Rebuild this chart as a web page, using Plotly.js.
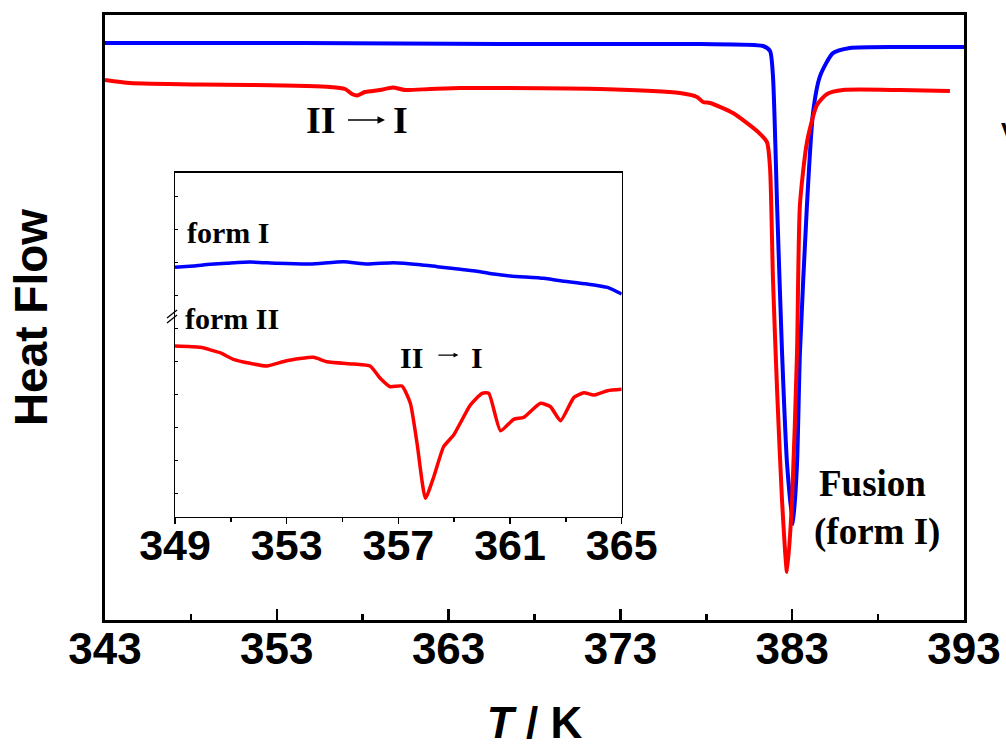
<!DOCTYPE html>
<html>
<head>
<meta charset="utf-8">
<script src="https://cdn.plot.ly/plotly-3.0.1.min.js"></script>
<style>
  html, body { margin: 0; padding: 0; background: #ffffff; }
  #chart { width: 1006px; height: 747px; }
</style>
</head>
<body>
<div id="chart"></div>
<script>
// DSC heating curves (arbitrary heat-flow units, endotherm down)

// Full scan: form I sample
const mainT_formI = [343, 354.35, 366.0, 377.63, 381.3, 381.71, 381.88, 382.12, 382.41, 382.7, 383.05,
  383.28, 383.45, 383.86, 384.21, 384.62, 385.37, 386.36, 389.27, 393];
const mainHF_formI = [9.537, 9.537, 9.52, 9.52, 9.488, 9.405, 8.99, 6.86, 4.413, 2.579, 1.587,
  2.579, 4.413, 6.86, 8.38, 8.99, 9.37, 9.455, 9.471, 9.471];

// Full scan: form II sample
const mainT_formII = [343, 344.46, 348.53, 351.44, 356.1, 356.97, 357.38, 357.67, 358.13, 359.01, 359.76,
  360.46, 361.92, 363.66, 365.99, 371.81, 376.47, 377.46, 377.81, 378.22, 379.55, 380.95, 381.53,
  381.71, 381.88, 382.12, 382.41, 382.7, 382.99, 383.28, 383.45, 383.86, 384.44, 385.03, 385.96,
  389.27, 392.18];
const mainHF_formII = [8.926, 8.876, 8.851, 8.843, 8.81, 8.777, 8.694, 8.669, 8.727, 8.76, 8.802,
  8.76, 8.777, 8.793, 8.793, 8.777, 8.711, 8.645, 8.562, 8.545, 8.38, 8.083, 7.9,
  7.47, 5.636, 3.80, 1.967, 0.793, 1.967, 4.413, 6.86, 7.90, 8.512, 8.694, 8.76,
  8.76, 8.744];

// Expanded region 349-365 K
const insetT_formI = [349.0, 349.66, 350.26, 350.85, 351.69, 352.65, 353.84, 355.04, 355.88, 356.83,
  357.79, 358.39, 359.22, 359.94, 360.42, 361.02, 362.21, 362.81, 363.77, 364.49, 365.0];
const insetHF_formI = [6.839, 6.879, 6.929, 6.96, 7.0, 6.96, 6.939, 7.01, 6.939, 6.979,
  6.919, 6.859, 6.778, 6.707, 6.636, 6.576, 6.505, 6.434, 6.333, 6.232, 6.03];

const insetT_formII = [349.0, 349.9, 350.61, 351.09, 351.69, 352.29, 353.0, 353.96, 354.44, 355.4,
  355.99, 356.35, 356.71, 357.13, 357.43, 357.67, 357.97, 358.27, 358.62, 358.98, 359.58, 360.0,
  360.24, 360.66, 361.13, 361.49, 362.09, 362.45, 362.81, 363.29, 363.65, 364.0, 364.49, 365.0];
const insetHF_formII = [4.455, 4.415, 4.252, 4.052, 3.93, 3.848, 4.009, 4.112, 3.979, 3.909,
  3.848, 3.476, 3.221, 3.242, 2.718, 1.506, -0.161, 0.494, 1.403, 1.758, 2.667, 3.021,
  3.021, 1.888, 2.233, 2.294, 2.718, 2.615, 2.191, 2.9, 3.039, 2.97, 3.1, 3.142];

// Axis ticks
const mainTicks = [343, 353, 363, 373, 383, 393];
const mainMinorTicks = [348, 358, 368, 378, 388];
const insetTicks = [349, 353, 357, 361, 365];
const insetMinorTicks = [351, 355, 359, 363];

const BLUE = '#0000ff';
const RED = '#ff0000';
const SANS = 'Liberation Sans, Arial, sans-serif';
const SERIF = 'Liberation Serif, Times New Roman, serif';

const traces = [
  { x: mainT_formI, y: mainHF_formI, xaxis: 'x', yaxis: 'y', mode: 'lines',
    line: { color: BLUE, width: 4, shape: 'spline', smoothing: 0.6 }, hoverinfo: 'skip' },
  { x: mainT_formII, y: mainHF_formII, xaxis: 'x', yaxis: 'y', mode: 'lines',
    line: { color: RED, width: 4, shape: 'spline', smoothing: 0.6 }, hoverinfo: 'skip' },
  { x: insetT_formI, y: insetHF_formI, xaxis: 'x2', yaxis: 'y2', mode: 'lines',
    line: { color: BLUE, width: 3.5, shape: 'spline', smoothing: 0.5 }, hoverinfo: 'skip' },
  { x: insetT_formII, y: insetHF_formII, xaxis: 'x2', yaxis: 'y2', mode: 'lines',
    line: { color: RED, width: 3.5, shape: 'spline', smoothing: 0.5 }, hoverinfo: 'skip' }
];

const serifBold = (size) => ({ family: SERIF, size: size, color: '#000', weight: 'bold' });

const annotations = [
  // main transition label
  { xref: 'x', yref: 'y', x: 355.6, y: 8.264, text: 'II', showarrow: false, font: serifBold(38) },
  { xref: 'x', yref: 'y', x: 359.3, y: 8.264, text: ' ', showarrow: true, ax: -40, ay: 0,
    arrowhead: 2, arrowsize: 1, arrowwidth: 1.5, arrowcolor: '#000', standoff: 0, startstandoff: 0 },
  { xref: 'x', yref: 'y', x: 360.2, y: 8.264, text: 'I', showarrow: false, font: serifBold(38) },
  // fusion label
  { xref: 'x', yref: 'y', x: 387.7, y: 2.26, text: 'Fusion', showarrow: false, font: serifBold(37) },
  { xref: 'x', yref: 'y', x: 387.95, y: 1.45, text: '(form I)', showarrow: false, font: serifBold(37) },
  // inset labels
  { xref: 'x2', yref: 'y2', x: 349.36, y: 7.88, xanchor: 'left', text: 'form I', showarrow: false, font: serifBold(30) },
  { xref: 'x2', yref: 'y2', x: 349.28, y: 5.30, xanchor: 'left', text: 'form II', showarrow: false, font: serifBold(30) },
  { xref: 'x2', yref: 'y2', x: 357.48, y: 4.12, text: 'II', showarrow: false, font: serifBold(30) },
  { xref: 'x2', yref: 'y2', x: 359.15, y: 4.18, text: ' ', showarrow: true, ax: -23, ay: 0,
    arrowhead: 2, arrowsize: 0.8, arrowwidth: 1.2, arrowcolor: '#000', standoff: 0, startstandoff: 0 },
  { xref: 'x2', yref: 'y2', x: 359.80, y: 4.12, text: 'I', showarrow: false, font: serifBold(30) },
  // partial glyph at the right edge
  { xref: 'paper', yref: 'paper', x: 1.0405, y: 0.835, xanchor: 'left', text: 'V', showarrow: false,
    font: { family: SANS, size: 26, color: '#000', weight: 'bold' } }
];

// axis-break marks on the inset's left axis (paper refs so they are not clipped)
const breakX = 0.0815, breakY = 0.5008;
const shapes = [
  { type: 'line', xref: 'paper', yref: 'paper', xsizemode: 'pixel', ysizemode: 'pixel',
    xanchor: breakX, yanchor: breakY, x0: -8, x1: 2, y0: -1, y1: 7, line: { color: '#000', width: 1.3 } },
  { type: 'line', xref: 'paper', yref: 'paper', xsizemode: 'pixel', ysizemode: 'pixel',
    xanchor: breakX, yanchor: breakY, x0: -8, x1: 2, y0: -6, y1: 2, line: { color: '#000', width: 1.3 } }
];

const layout = {
  width: 1006, height: 747,
  margin: { l: 105, r: 42, t: 15, b: 127, pad: 0 },
  paper_bgcolor: '#ffffff', plot_bgcolor: '#ffffff',
  showlegend: false,
  xaxis: {
    domain: [0, 1], anchor: 'y', range: [343, 393],
    tickmode: 'array', tickvals: mainTicks, ticktext: mainTicks.map(String),
    ticks: 'inside', ticklen: 11, tickwidth: 2.5, tickcolor: '#000',
    minor: { tickmode: 'array', tickvals: mainMinorTicks, ticks: 'inside', ticklen: 6, tickwidth: 2.5, tickcolor: '#000' },
    showline: true, linewidth: 3, linecolor: '#000', mirror: true,
    showgrid: false, zeroline: false,
    tickfont: { family: SANS, size: 44, color: '#000', weight: 'bold' },
    ticklabelstandoff: -12,
    title: { text: '<i>T</i> / K', font: { family: SANS, size: 44, color: '#000', weight: 'bold' }, standoff: 51 }
  },
  yaxis: {
    domain: [0, 1], anchor: 'x', range: [0, 10],
    showticklabels: false, ticks: '',
    showline: true, linewidth: 3, linecolor: '#000', mirror: true,
    showgrid: false, zeroline: false,
    title: { text: 'Heat Flow', font: { family: SANS, size: 46, color: '#000', weight: 'bold' }, standoff: 40 }
  },
  xaxis2: {
    domain: [0.0815, 0.6015], anchor: 'y2', range: [349, 365],
    tickmode: 'array', tickvals: insetTicks, ticktext: insetTicks.map(String),
    ticks: 'outside', ticklen: 6, tickwidth: 1.5, tickcolor: '#000',
    minor: { tickmode: 'array', tickvals: insetMinorTicks, ticks: 'outside', ticklen: 4, tickwidth: 1.5, tickcolor: '#000' },
    showline: true, linewidth: 1.5, linecolor: '#000', mirror: true,
    showgrid: false, zeroline: false,
    tickfont: { family: SANS, size: 43, color: '#000', weight: 'bold' },
    ticklabelstandoff: -16
  },
  yaxis2: {
    domain: [0.1707, 0.7393], anchor: 'x2', range: [-0.718, 9.706],
    tickmode: 'linear', tick0: 0, dtick: 1,
    showticklabels: false, ticks: 'inside', ticklen: 3, tickwidth: 1, tickcolor: '#000',
    showline: true, linewidth: 1.5, linecolor: '#000', mirror: true,
    showgrid: false, zeroline: false
  },
  annotations: annotations,
  shapes: shapes
};

Plotly.newPlot('chart', traces, layout, { staticPlot: true, displayModeBar: false });
</script>
</body>
</html>
